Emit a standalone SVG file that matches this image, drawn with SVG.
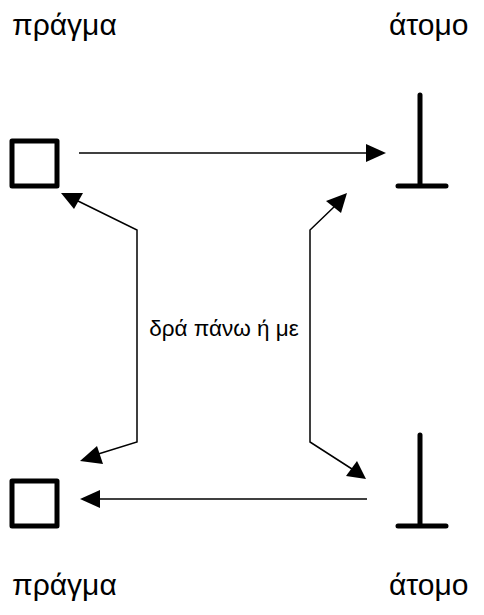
<svg xmlns="http://www.w3.org/2000/svg" width="484" height="615" viewBox="0 0 484 615">
<style>
.lbl{font-family:"Liberation Sans",Arial,sans-serif;font-size:30px;fill:#000}
.mid{font-family:"Liberation Sans",Arial,sans-serif;font-size:22.5px;fill:#000}
.box{fill:none;stroke:#000;stroke-width:5;stroke-linejoin:round}
.tee{fill:none;stroke:#000;stroke-width:5;stroke-linecap:round}
.con{fill:none;stroke:#000;stroke-width:1.5}
.head{fill:#000;stroke:none}
</style>
<rect width="484" height="615" fill="#fff"/>
<g id="label-top-left"><text class="lbl" x="12" y="35">πράγμα</text></g>
<g id="label-top-right"><text class="lbl" x="389" y="35">άτομο</text></g>
<g id="label-bottom-left"><text class="lbl" x="12" y="595">πράγμα</text></g>
<g id="label-bottom-right"><text class="lbl" x="389" y="595">άτομο</text></g>
<g id="thing-top"><rect class="box" x="12" y="141" width="45" height="45"/></g>
<g id="thing-bottom"><rect class="box" x="12" y="481" width="45" height="45"/></g>
<g id="atom-top"><path class="tee" d="M420 95V186M398 186H446"/></g>
<g id="atom-bottom"><path class="tee" d="M420 435V526M398 526H446"/></g>
<g id="label-mid"><text class="mid" x="224" y="336" text-anchor="middle">δρά πάνω ή με</text></g>
<g id="connectors">
<path class="con" d="M79 153H368"/>
<polygon class="head" points="386,153 366,144 366,162"/>
<path class="con" d="M367 499H98"/>
<polygon class="head" points="80,499 100,490 100,508"/>
<path class="con" d="M78 201L137 230V442L95 455"/>
<polygon class="head" points="61,193 83,193 74,209"/>
<polygon class="head" points="80,461 97,446 103,464"/>
<path class="con" d="M335 206L310 230V442L352 469"/>
<polygon class="head" points="347,193 326,201 341,213"/>
<polygon class="head" points="366,479 346,476 357,461"/>
</g>
</svg>
